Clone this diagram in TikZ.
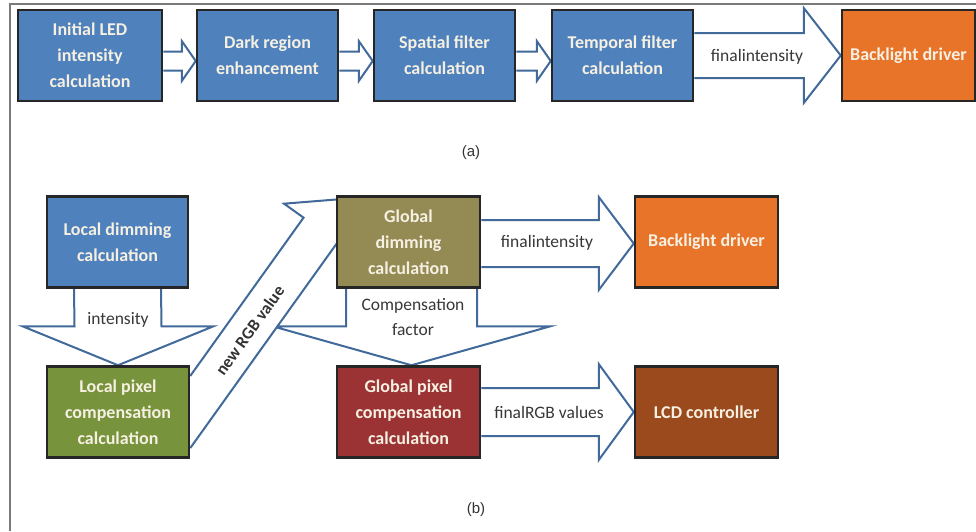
\documentclass[tikz,border=0pt]{standalone}
\usepackage{fontspec}
\setmainfont{Carlito}
\newfontfamily\capfont{Liberation Sans}
\usetikzlibrary{calc}
\pgfdeclarelayer{bg}
\pgfdeclarelayer{paper}
\pgfsetlayers{paper,bg,main}
\definecolor{cblue}{HTML}{4F81BD}
\definecolor{corange}{HTML}{E8742A}
\definecolor{colive}{HTML}{948A54}
\definecolor{cgreen}{HTML}{77933C}
\definecolor{cred}{HTML}{9B3334}
\definecolor{cbrown}{HTML}{9A4A1C}
\definecolor{aline}{HTML}{41699A}
\definecolor{btext}{HTML}{F6F0E2}
\definecolor{ltext}{HTML}{383838}
\definecolor{framec}{HTML}{7A7A7A}
\tikzset{
  box/.style={draw=black!85, line width=2.5pt, minimum height=91pt, inner sep=0pt,
    align=center, text=btext, font=\bfseries\fontsize{18}{26}\selectfont},
  barrow/.style={draw=aline, fill=white, line width=2pt, line join=miter},
  lbl/.style={text=ltext, font=\fontsize{17.5}{25}\selectfont, align=center, inner sep=0pt},
  captxt/.style={text=black!80, font=\capfont\fontsize{15}{18}\selectfont, inner sep=0pt}
}
% horizontal block arrow: src, dst, shaft half, head half, head length, y offset (down)
\newcommand{\hblk}[6]{%
  \begin{pgfonlayer}{bg}
  \filldraw[barrow] ($(#1.east)+(0,#6-#3)$) -- ($(#2.west)+(-#5,#6-#3)$) -- ($(#2.west)+(-#5,#6-#4)$)
    -- ($(#2.west)+(0,#6)$) -- ($(#2.west)+(-#5,#6+#4)$) -- ($(#2.west)+(-#5,#6+#3)$) -- ($(#1.east)+(0,#6+#3)$);
  \end{pgfonlayer}}
% vertical block arrow: src, dst, shaft half, head half, head length, x offset
\newcommand{\vblk}[6]{%
  \begin{pgfonlayer}{bg}
  \filldraw[barrow] ($(#1.south)+(#6-#3,0)$) -- ($(#2.north)+(#6-#3,-#5)$) -- ($(#2.north)+(#6-#4,-#5)$)
    -- ($(#2.north)+(#6,0)$) -- ($(#2.north)+(#6+#4,-#5)$) -- ($(#2.north)+(#6+#3,-#5)$) -- ($(#1.south)+(#6+#3,0)$);
  \end{pgfonlayer}}
\begin{document}
\begin{tikzpicture}[x=1pt,y=-1pt]
\useasboundingbox (0,0) rectangle (976,531);
\begin{pgfonlayer}{paper}
\fill[white] (0,0) rectangle (976,531);
\end{pgfonlayer}
\draw[framec, line width=1.3pt] (10,531) -- (10,4) -- (976,4);

% (a)
\node[box, fill=cblue, minimum width=144pt] (b1) at (90,55.5) {Initial LED\\intensity\\calculation};
\node[box, fill=cblue, minimum width=141pt] (b2) at (267.5,55.5) {Dark region\\enhancement};
\node[box, fill=cblue, minimum width=141pt] (b3) at (444.5,55.5) {Spatial filter\\calculation};
\node[box, fill=cblue, minimum width=141pt] (b4) at (622.5,55.5) {Temporal filter\\calculation};
\node[box, fill=corange, minimum width=133pt] (b5) at (908.5,55.5) {Backlight driver};

\hblk{b1}{b2}{9.5}{20}{14}{5.5}
\hblk{b2}{b3}{9.5}{20}{14}{5.5}
\hblk{b3}{b4}{9.5}{20}{14}{5.5}
\hblk{b4}{b5}{22.5}{47.5}{37}{0}
\node[lbl] (la1) at (757,57) {finalintensity};
\node[captxt] (capa) at (471,153) {(a)};

% (b)
\node[box, fill=cblue, minimum width=141pt] (ld) at (117.5,242) {Local dimming\\calculation};
\node[box, fill=colive, minimum width=143pt] (gd) at (408.5,242) {Global\\dimming\\calculation};
\node[box, fill=corange, minimum width=143pt] (bd) at (706.5,242) {Backlight driver};
\node[box, fill=cgreen, minimum width=142pt] (lp) at (118,412) {Local pixel\\compensation\\calculation};
\node[box, fill=cred, minimum width=143pt] (gp) at (408.5,412) {Global pixel\\compensation\\calculation};
\node[box, fill=cbrown, minimum width=143pt] (lcd) at (706.5,412) {LCD controller};

\vblk{ld}{lp}{43.5}{95.5}{39}{0}
\vblk{gd}{gp}{65.5}{139}{39}{3}
\hblk{gd}{bd}{23.5}{46.5}{35}{1.5}
\hblk{gp}{lcd}{24}{48}{35}{0}

\begin{pgfonlayer}{bg}
\begin{scope}[shift={(lp.east)}, rotate=54.4, y=1pt]
  \filldraw[barrow] (29.3,21) -- (224,21) -- (224,45) -- (262,0) -- (224,-45) -- (224,-21) -- (-29.3,-21);
\end{scope}
\end{pgfonlayer}
\begin{scope}[shift={(lp.east)}, rotate=54.4, y=1pt]
  \node[lbl, rotate=54.4, font=\bfseries\fontsize{17}{20}\selectfont, text=black!80] (lrgb) at (101,-1) {new RGB value};
\end{scope}

\node[lbl] (lint) at (118,320) {intensity};
\node[lbl] (lcomp) at (413,317) {Compensation\\factor};
\node[lbl] (lb1) at (547,243) {finalintensity};
\node[lbl] (lb2) at (549,412) {finalRGB values};
\node[captxt] (capb) at (476,510) {(b)};
\end{tikzpicture}
\end{document}
